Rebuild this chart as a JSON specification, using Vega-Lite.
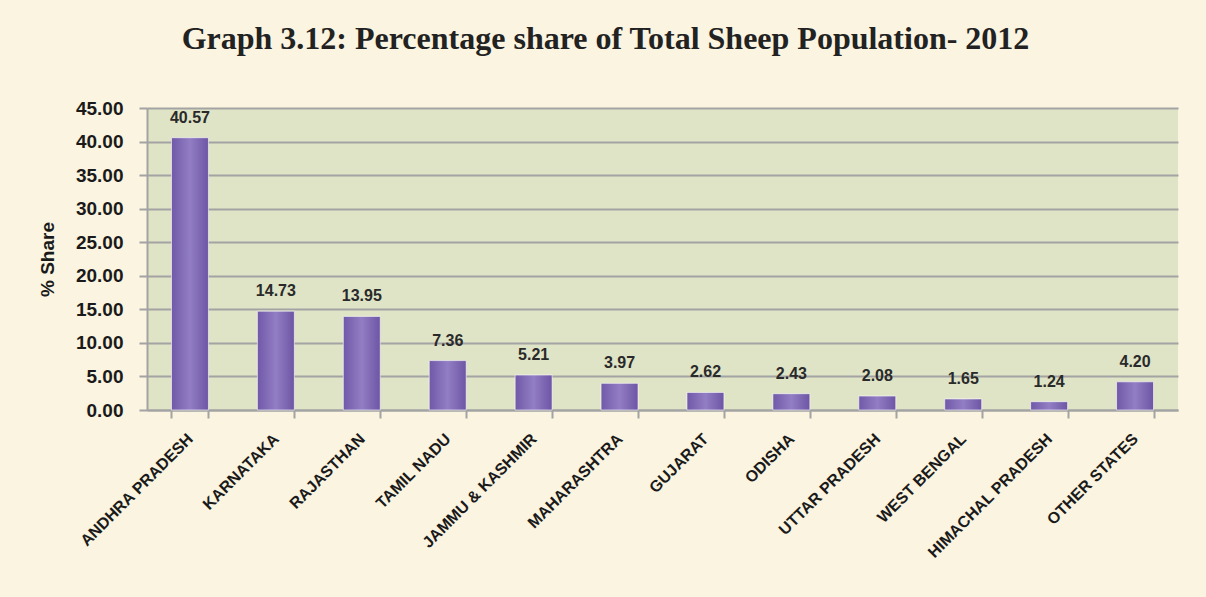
{
  "$schema": "https://vega.github.io/schema/vega-lite/v6.json",
  "width": 1031,
  "height": 302,
  "autosize": "none",
  "padding": {"left": 147, "top": 108, "right": 28, "bottom": 187},
  "background": "#FAF4E0",
  "title": {
    "text": "Graph 3.12: Percentage share of Total Sheep Population- 2012",
    "font": "Liberation Serif",
    "fontSize": 32,
    "fontWeight": "bold",
    "color": "#222222",
    "anchor": "middle",
    "dx": -57,
    "offset": 43
  },
  "data": {
    "values": [
      {"state": "ANDHRA PRADESH", "share": 40.57},
      {"state": "KARNATAKA", "share": 14.73},
      {"state": "RAJASTHAN", "share": 13.95},
      {"state": "TAMIL NADU", "share": 7.36},
      {"state": "JAMMU & KASHMIR", "share": 5.21},
      {"state": "MAHARASHTRA", "share": 3.97},
      {"state": "GUJARAT", "share": 2.62},
      {"state": "ODISHA", "share": 2.43},
      {"state": "UTTAR PRADESH", "share": 2.08},
      {"state": "WEST BENGAL", "share": 1.65},
      {"state": "HIMACHAL PRADESH", "share": 1.24},
      {"state": "OTHER STATES", "share": 4.20}
    ]
  },
  "encoding": {
    "x": {
      "field": "state",
      "type": "nominal",
      "sort": null,
      "scale": {"paddingInner": 0.57, "paddingOuter": 0.285},
      "axis": {
        "title": null,
        "labelAngle": -45,
        "labelAlign": "right",
        "labelBaseline": "middle",
        "labelFont": "Liberation Sans",
        "labelFontSize": 16,
        "labelFontWeight": "bold",
        "labelColor": "#1A1A1A",
        "labelPadding": 18,
        "tickBand": "extent",
        "tickColor": "#A3A3A3",
        "tickSize": 8,
        "tickWidth": 2,
        "domainColor": "#A3A3A3",
        "domainWidth": 2,
        "grid": false
      }
    },
    "y": {
      "field": "share",
      "type": "quantitative",
      "scale": {"domain": [0, 45]},
      "axis": {
        "values": [0, 5, 10, 15, 20, 25, 30, 35, 40, 45],
        "format": ".2f",
        "grid": true,
        "gridColor": "#A3A3A3",
        "gridWidth": 2,
        "tickColor": "#A3A3A3",
        "tickSize": 8,
        "tickWidth": 2,
        "domainColor": "#A3A3A3",
        "domainWidth": 2,
        "labelFont": "Liberation Sans",
        "labelFontSize": 19,
        "labelFontWeight": "bold",
        "labelColor": "#1A1A1A",
        "labelPadding": 16,
        "title": "% Share",
        "titleFont": "Liberation Sans",
        "titleFontSize": 19,
        "titleFontWeight": "bold",
        "titleColor": "#1A1A1A",
        "titlePadding": 18
      }
    }
  },
  "layer": [
    {
      "mark": {
        "type": "bar",
        "fill": {
          "gradient": "linear",
          "x1": 0, "x2": 1, "y1": 0, "y2": 0,
          "stops": [
            {"offset": 0, "color": "#7059A8"},
            {"offset": 0.5, "color": "#927EC4"},
            {"offset": 1, "color": "#6D55A4"}
          ]
        },
        "stroke": "#FFFFFF",
        "strokeWidth": 0.6
      }
    },
    {
      "mark": {
        "type": "text",
        "baseline": "bottom",
        "dy": -12,
        "font": "Liberation Sans",
        "fontSize": 16,
        "fontWeight": "bold",
        "color": "#2A2A2A"
      },
      "encoding": {
        "text": {"field": "share", "type": "quantitative", "format": ".2f"}
      }
    }
  ],
  "config": {
    "view": {"fill": "#DFE4C6", "stroke": null}
  }
}
